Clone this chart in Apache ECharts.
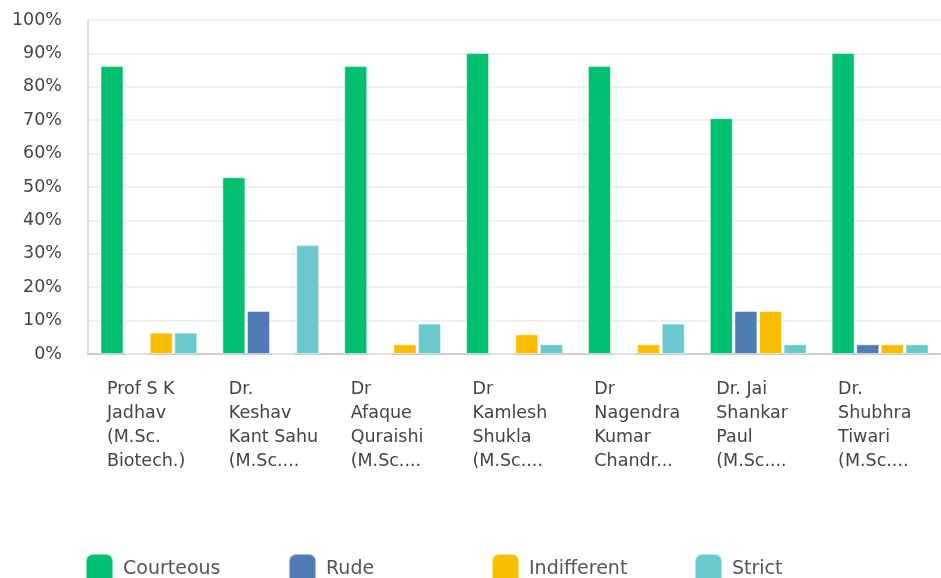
<!DOCTYPE html>
<html>
<head>
<meta charset="utf-8">
<script src="https://cdn.jsdelivr.net/npm/echarts@6/dist/echarts.min.js"></script>
<style>
  html, body { margin: 0; padding: 0; background: #fff; }
  #chart { width: 941px; height: 578px; }
</style>
</head>
<body>
<div id="chart"></div>
<script>
// category labels as shown (already wrapped / truncated in the source)
const teachers = [
  ['Prof S K', 'Jadhav', '(M.Sc.', 'Biotech.)'],
  ['Dr.', 'Keshav', 'Kant Sahu', '(M.Sc....'],
  ['Dr', 'Afaque', 'Quraishi', '(M.Sc....'],
  ['Dr', 'Kamlesh', 'Shukla', '(M.Sc....'],
  ['Dr', 'Nagendra', 'Kumar', 'Chandr...'],
  ['Dr. Jai', 'Shankar', 'Paul', '(M.Sc....'],
  ['Dr.', 'Shubhra', 'Tiwari', '(M.Sc....']
];

const courteous = [86.2, 52.9, 86.2, 90.1, 86.2, 70.6, 90.1];
const rude = [0, 12.9, 0, 0, 0, 12.9, 2.9];
const indifferent = [6.4, 0, 2.9, 5.9, 2.9, 12.9, 2.9];
const strict = [6.4, 32.6, 9.1, 2.9, 9.1, 2.9, 2.9];

const seriesNames = ['Courteous', 'Rude', 'Indifferent', 'Strict'];
const colors = ['#00BF6F', '#507CB6', '#F9BE00', '#6BC8CD'];

const chart = echarts.init(document.getElementById('chart'));

const barSeries = [courteous, rude, indifferent, strict].map((data, i) => ({
  name: seriesNames[i],
  type: 'bar',
  data: data,
  barWidth: 23,
  barGap: '7%',
  itemStyle: {
    color: colors[i],
    borderColor: 'rgba(255,255,255,0.5)',
    borderWidth: 1
  }
}));

// one legend per series so the items sit on a fixed 203px step
const legends = seriesNames.map((name, i) => ({
  left: 85 + i * 203,
  top: 553,
  padding: 0,
  itemWidth: 27,
  itemHeight: 30,
  icon: 'roundRect',
  data: [name],
  textStyle: {
    fontFamily: 'DejaVu Sans',
    fontSize: 19,
    color: '#555',
    padding: [0, 0, 0, 5]
  }
}));

const option = {
  animation: false,
  color: colors,
  grid: {
    left: 88,
    right: -5,
    top: 20,
    bottom: 224
  },
  legend: legends,
  xAxis: {
    type: 'category',
    data: teachers.map(t => t.join('\n')),
    axisTick: { show: false },
    axisLine: { lineStyle: { color: '#ccc', width: 2 } },
    axisLabel: {
      interval: 0,
      margin: 23,
      formatter: value => value.split('\n').map(s => '{a|' + s + '}').join('\n'),
      rich: {
        a: {
          width: 84,
          align: 'left',
          fontFamily: 'DejaVu Sans',
          fontSize: 17.5,
          lineHeight: 24,
          color: '#444'
        }
      }
    }
  },
  yAxis: {
    type: 'value',
    min: 0,
    max: 100,
    interval: 10,
    axisLine: { show: true, lineStyle: { color: '#ddd', width: 2 } },
    axisTick: { show: false },
    splitLine: { lineStyle: { color: '#f0f0f0', width: 2 } },
    axisLabel: {
      formatter: '{value}%',
      margin: 26,
      fontFamily: 'DejaVu Sans',
      fontSize: 17.5,
      color: '#444'
    }
  },
  series: barSeries
};

chart.setOption(option);
</script>
</body>
</html>
